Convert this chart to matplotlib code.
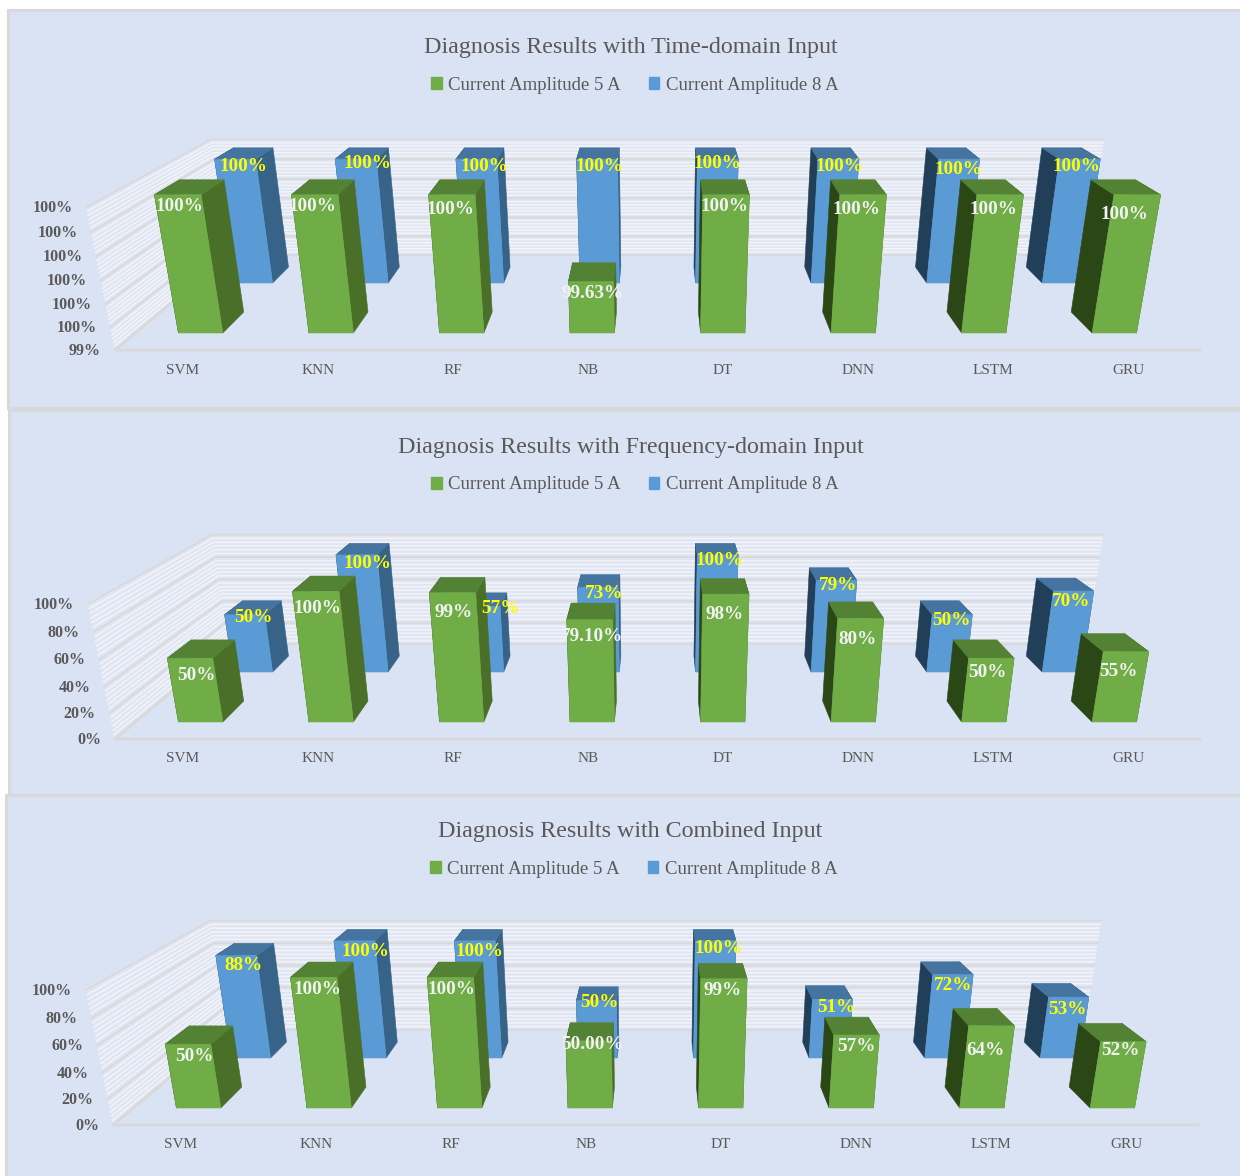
import matplotlib
matplotlib.use('Agg')
import matplotlib.pyplot as plt
from matplotlib.patches import Polygon, Patch, Rectangle

plt.rcParams['font.family'] = ['Liberation Serif', 'DejaVu Serif']

categories = ['SVM', 'KNN', 'RF', 'NB', 'DT', 'DNN', 'LSTM', 'GRU']
series_names = ['Current Amplitude 5 A', 'Current Amplitude 8 A']

time_5a = [100, 100, 100, 99.63, 100, 100, 100, 100]
time_8a = [100, 100, 100, 100, 100, 100, 100, 100]
time_5a_text = ['100%', '100%', '100%', '99.63%', '100%', '100%', '100%', '100%']
time_8a_text = ['100%', '100%', '100%', '100%', '100%', '100%', '100%', '100%']
time_ticks = [99.4, 99.5, 99.6, 99.7, 99.8, 99.9, 100]
time_tick_text = ['99%', '100%', '100%', '100%', '100%', '100%', '100%']

freq_5a = [50, 100, 99, 79.10, 98, 80, 50, 55]
freq_8a = [50, 100, 57, 73, 100, 79, 50, 70]
freq_5a_text = ['50%', '100%', '99%', '79.10%', '98%', '80%', '50%', '55%']
freq_8a_text = ['50%', '100%', '57%', '73%', '100%', '79%', '50%', '70%']

comb_5a = [50, 100, 100, 52.5, 99, 57, 64, 52]
comb_8a = [88, 100, 100, 50, 100, 51, 72, 53]
comb_5a_text = ['50%', '100%', '100%', '50.00%', '99%', '57%', '64%', '52%']
comb_8a_text = ['88%', '100%', '100%', '50%', '100%', '51%', '72%', '53%']

pct_ticks = [0, 20, 40, 60, 80, 100]
pct_tick_text = ['0%', '20%', '40%', '60%', '80%', '100%']

# label nudges in pixels, the chart had them placed by hand
time_nudge_5 = [(2, 0), (-2, 0), (-1, 3), (2, 0), (-2, 0), (-7, 3), (-7, 3), (-13, 8)]
time_nudge_8 = [(0, 1), (4, -2), (0, 1), (-6, 1), (-8, -2), (-7, 1), (-9, 4), (-11, 1)]
freq_nudge_5 = [(6, 5), (2, 5), (1, 8), (2, 5), (-1, 8), (-3, 9), (-4, 2), (-8, 8)]
freq_nudge_8 = [(1, -3), (3, 3), (12, -4), (-2, 0), (-6, 0), (-6, -1), (-9, 0), (-11, 4)]
comb_nudge_5 = [(6, 0), (4, 0), (1, 0), (4, -8), (-1, 0), (0, -1), (-6, 13), (-3, -3)]
comb_nudge_8 = [(-1, 4), (3, 5), (-3, 5), (-5, -4), (-5, 2), (-4, 2), (-8, 5), (-9, 6)]

BG = '#dae3f3'
EDGE = '#d9d9d9'
TXT = '#595959'
GREEN = ['#70ad47', '#4a6f28', '#2b4716', '#548235']   # front, right side, left side, top
BLUE = ['#5b9bd5', '#376388', '#213f58', '#44749f']

BAR_W = 0.34
Z_CAM = 0.2654
Z_5A = (0.147, 0.345)
Z_8A = (0.654, 0.845)


def make_proj(x0, floor, by, vmin, vmax):
    # three point perspective, x stays parallel, y and z run to vanishing points
    vx = x0 + 542
    vy_up = floor + 2740
    vy_depth = floor - 453

    def proj(x, v, z):
        y = (v - vmin) / (vmax - vmin)
        t = Z_CAM * z
        b = by * y
        w = 1 + b + t
        return ((x0 + 1085 * x + b * vx + t * vx) / w,
                (floor + b * vy_up + t * vy_depth) / w)
    return proj


def draw_bar(ax, proj, i, val, vmin, zr, cols):
    x1 = (i + 0.5 - BAR_W / 2) / 8
    x2 = (i + 0.5 + BAR_W / 2) / 8
    z1, z2 = zr
    front = [proj(x1, vmin, z1), proj(x2, vmin, z1), proj(x2, val, z1), proj(x1, val, z1)]
    right = [proj(x2, vmin, z1), proj(x2, vmin, z2), proj(x2, val, z2), proj(x2, val, z1)]
    left = [proj(x1, vmin, z1), proj(x1, vmin, z2), proj(x1, val, z2), proj(x1, val, z1)]
    top = [proj(x1, val, z1), proj(x2, val, z1), proj(x2, val, z2), proj(x1, val, z2)]
    for pts, c in ((left, cols[2]), (right, cols[1]), (top, cols[3]), (front, cols[0])):
        ax.add_patch(Polygon(pts, closed=True, fc=c, ec=c, lw=0.4, zorder=3))
    return proj((x1 + x2) / 2, val, z1)


def draw_panel(ax, rect, title, title_xy, legend_xy, x0, floor, by, ticks, tick_text,
               vals_5a, vals_8a, text_5a, text_8a, nudge_5, nudge_8):
    ax.add_patch(Rectangle((rect[0], rect[1]), rect[2], rect[3], fc=BG, ec=EDGE, lw=2.2, zorder=0.5))
    vmin, vmax = ticks[0], ticks[-1]
    proj = make_proj(x0, floor, by, vmin, vmax)

    # walls
    ax.add_patch(Polygon([proj(0, vmin, 1), proj(1, vmin, 1), proj(1, vmax, 1), proj(0, vmax, 1)],
                         fc='#e0e5f2', ec='none', zorder=1))
    ax.add_patch(Polygon([proj(0, vmin, 0), proj(0, vmin, 1), proj(0, vmax, 1), proj(0, vmax, 0)],
                         fc='#e0e5f2', ec='none', zorder=1))
    for a, b in zip(ticks[:-1], ticks[1:]):
        for k in range(1, 6):
            v = a + (b - a) * k / 6
            pts = [proj(1, v, 1), proj(0, v, 1), proj(0, v, 0)]
            ax.plot([p[0] for p in pts], [p[1] for p in pts], color='#f2f4fa', lw=1.1, zorder=1.2)
    for v in ticks:
        pts = [proj(1, v, 1), proj(0, v, 1), proj(0, v, 0)]
        ax.plot([p[0] for p in pts], [p[1] for p in pts], color=EDGE, lw=1.3, zorder=1.4)
    # floor edges
    pts = [proj(0, vmin, 1), proj(0, vmin, 0), proj(1, vmin, 0)]
    ax.plot([p[0] for p in pts], [p[1] for p in pts], color=EDGE, lw=2, zorder=1.4)

    for v, t in zip(ticks, tick_text):
        px, py = proj(0, v, 0)
        ax.text(px - 14, py + 1, t, ha='right', va='center', fontsize=11.5, fontweight='bold', color=TXT)
    for i, c in enumerate(categories):
        px, py = proj((i + 0.5) / 8 * 0.9963, vmin, 0)
        ax.text(px, py + 20, c, ha='center', va='center', fontsize=11, color=TXT)

    anchors_8 = [draw_bar(ax, proj, i, v, vmin, Z_8A, BLUE) for i, v in enumerate(vals_8a)]
    anchors_5 = [draw_bar(ax, proj, i, v, vmin, Z_5A, GREEN) for i, v in enumerate(vals_5a)]

    for (px, py), t, n in zip(anchors_8, text_8a, nudge_8):
        ax.text(px + 8 + n[0], py + 6 + n[1], t, ha='center', va='center', fontsize=13.8,
                fontweight='bold', color='#ffff00', zorder=5)
    for (px, py), t, n in zip(anchors_5, text_5a, nudge_5):
        ax.text(px + n[0], py + 12 + n[1], t, ha='center', va='center', fontsize=13.8,
                fontweight='bold', color='#f2f2f2', zorder=5)

    ax.text(title_xy[0], title_xy[1], title, ha='center', va='center', fontsize=17.3, color=TXT)
    handles = [Patch(color=GREEN[0], label=series_names[0]), Patch(color=BLUE[0], label=series_names[1])]
    ax.figure.legend(handles=handles, loc='center', ncol=2, frameon=False, fontsize=13.5,
                     bbox_to_anchor=(legend_xy[0] / 1240, 1 - legend_xy[1] / 1176),
                     handlelength=0.55, handleheight=0.55, handletextpad=0.35,
                     columnspacing=1.5, labelcolor=TXT)


fig = plt.figure(figsize=(12.4, 11.76), dpi=100, facecolor='white')
ax = fig.add_axes([0, 0, 1, 1])
ax.set_xlim(0, 1240)
ax.set_ylim(1176, 0)
ax.axis('off')

draw_panel(ax, (8, 10, 1240, 398), 'Diagnosis Results with Time-domain Input', (631, 47), (635, 85),
           115, 350, -0.0496, time_ticks, time_tick_text, time_5a, time_8a, time_5a_text, time_8a_text,
           time_nudge_5, time_nudge_8)
draw_panel(ax, (9, 410, 1240, 385), 'Diagnosis Results with Frequency-domain Input', (631, 447), (635, 485),
           115, 739, -0.047, pct_ticks, pct_tick_text, freq_5a, freq_8a, freq_5a_text, freq_8a_text,
           freq_nudge_5, freq_nudge_8)
draw_panel(ax, (6, 795, 1240, 385), 'Diagnosis Results with Combined Input', (630, 831), (634, 869),
           113, 1125, -0.047, pct_ticks, pct_tick_text, comb_5a, comb_8a, comb_5a_text, comb_8a_text,
           comb_nudge_5, comb_nudge_8)

fig.savefig('out.png', dpi=100)
